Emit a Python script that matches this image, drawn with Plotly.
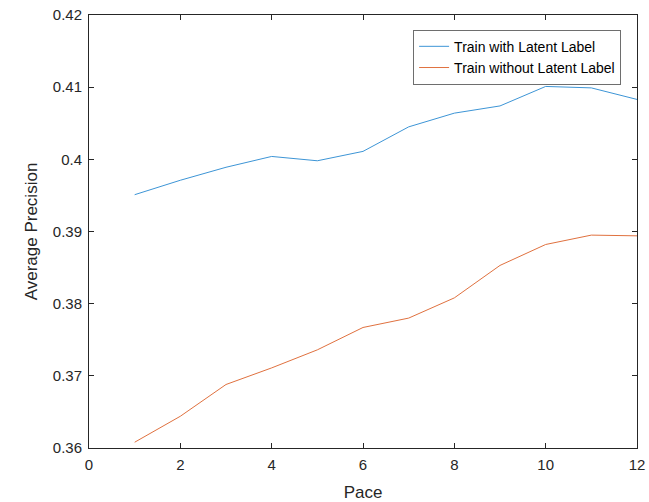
import plotly.graph_objects as go

pace = [1, 2, 3, 4, 5, 6, 7, 8, 9, 10, 11, 12]
with_latent = [0.3951, 0.3971, 0.3989, 0.4004, 0.3998, 0.4011, 0.4045, 0.4064, 0.4074, 0.4101, 0.4099, 0.4083]
without_latent = [0.3608, 0.3644, 0.3688, 0.3711, 0.3736, 0.3767, 0.3780, 0.3808, 0.3853, 0.3882, 0.3895, 0.3894]
series_names = ["Train with Latent Label", "Train without Latent Label"]
x_ticks = [0, 2, 4, 6, 8, 10, 12]
y_ticks = [0.36, 0.37, 0.38, 0.39, 0.40, 0.41, 0.42]
y_tick_labels = ["0.36", "0.37", "0.38", "0.39", "0.4", "0.41", "0.42"]

FONT = "Liberation Sans, Arial, Helvetica, sans-serif"
AX = "#262626"

fig = go.Figure()
fig.add_trace(go.Scatter(x=pace, y=with_latent, mode="lines", name=series_names[0],
                         line=dict(color="#3D95D6", width=1)))
fig.add_trace(go.Scatter(x=pace, y=without_latent, mode="lines", name=series_names[1],
                         line=dict(color="#E0713F", width=1)))

axis_common = dict(showgrid=False, zeroline=False, showline=True, linecolor=AX, linewidth=1,
                   mirror="ticks", ticks="inside", ticklen=5, tickcolor=AX, tickwidth=1,
                   automargin=False, ticklabelstandoff=3,
                   tickfont=dict(family=FONT, size=15, color=AX))

fig.update_xaxes(range=[0, 12], tickvals=x_ticks, ticktext=[str(v) for v in x_ticks],
                 title=dict(text="Pace", font=dict(family=FONT, size=17, color=AX), standoff=14),
                 **axis_common)
fig.update_yaxes(range=[0.36, 0.42], tickvals=y_ticks, ticktext=y_tick_labels,
                 title=dict(text="Average Precision", font=dict(family=FONT, size=17, color=AX), standoff=10),
                 **axis_common)

fig.update_layout(
    width=649, height=502,
    margin=dict(l=89, r=12, t=15, b=54),
    plot_bgcolor="white", paper_bgcolor="white",
    font=dict(family=FONT, color=AX),
    legend=dict(x=0.971, y=0.966, xanchor="right", yanchor="top",
                bgcolor="white", bordercolor="#6E6E6E", borderwidth=1,
                font=dict(family=FONT, size=14, color="#000000"),
                tracegroupgap=0, itemwidth=30),
)

fig.write_html("out.html")
